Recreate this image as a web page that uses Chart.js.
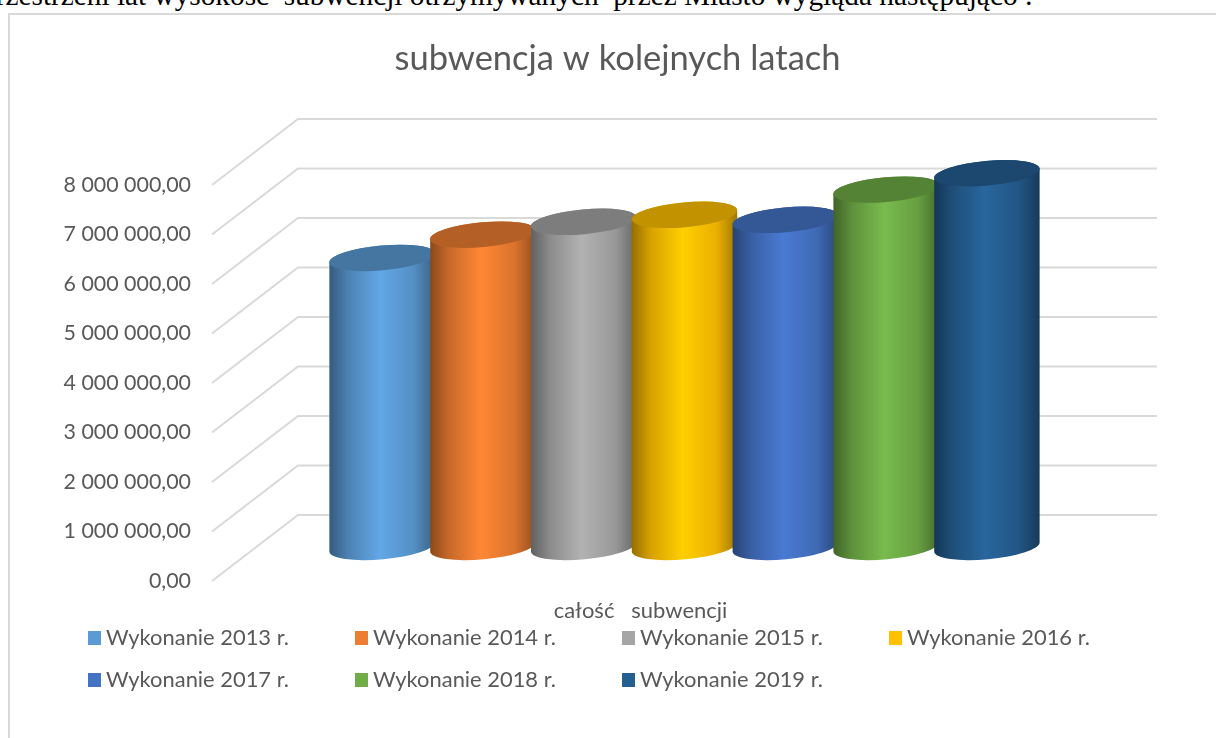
<!DOCTYPE html>
<html lang="pl">
<head>
<meta charset="utf-8">
<style>
html,body{margin:0;padding:0;background:#fff;overflow:hidden;width:1216px;height:738px}
#topline{position:absolute;right:183px;top:-19px;font:29.3px/29px "Liberation Serif",serif;color:#000;white-space:pre}
#frame{position:absolute;left:8px;top:13px;width:1300px;height:800px;border:2px solid #d9d9d9;box-sizing:border-box}
#wrap{position:absolute;left:0;top:0;width:1235px;height:738px}
</style>
</head>
<body>
<div id="topline">przestrzeni lat wysokość  subwencji otrzymywanych  przez Miasto wygląda następująco :</div>
<div id="frame"></div>
<div id="wrap"><canvas id="c" width="1235" height="738"></canvas></div>
<script src="https://cdn.jsdelivr.net/npm/chart.js@4/dist/chart.umd.min.js"></script>
<script>
const chartTitle = "subwencja w kolejnych latach";
const categories = ["całość   subwencji"];
const seriesNames = ["Wykonanie 2013 r.","Wykonanie 2014 r.","Wykonanie 2015 r.","Wykonanie 2016 r.","Wykonanie 2017 r.","Wykonanie 2018 r.","Wykonanie 2019 r."];
const seriesValues = [5840000,6310000,6570000,6710000,6610000,7220000,7550000];
const seriesColors = ["#5B9BD5","#ED7D31","#A5A5A5","#FFC000","#4472C4","#70AD47","#255E91"];
const FONT = "Lato, Carlito, sans-serif";
const INK = "#595959";

function shade(hex,f){
  const n=parseInt(hex.slice(1),16);
  const ch=s=>Math.min(255,Math.round(((n>>s)&255)*f));
  return `rgb(${ch(16)},${ch(8)},${ch(0)})`;
}
function formatPL(v){
  const s=Math.round(v).toString().replace(/\B(?=(\d{3})+(?!\d))/g," ");
  return s+",00";
}

const depthX=86, depthY=66, baseShift=34, tilt=-0.09, minor=12.4;

const wallGrid={
  id:"wallGrid",
  beforeDatasetsDraw(chart){
    const {ctx,scales:{y},chartArea:a}=chart;
    ctx.save();
    ctx.strokeStyle="#d9d9d9";ctx.lineWidth=2;
    y.ticks.forEach(t=>{
      const py=y.getPixelForValue(t.value);
      ctx.beginPath();
      ctx.moveTo(a.left,py);
      ctx.lineTo(a.left+depthX,py-depthY);
      ctx.lineTo(a.right,py-depthY);
      ctx.stroke();
    });
    ctx.restore();
  }
};

const cylinders={
  id:"cylinders",
  beforeDatasetsDraw(chart){
    const ctx=chart.ctx;
    ctx.save();
    chart.data.datasets.forEach((ds,i)=>{
      const bar=chart.getDatasetMeta(i).data[0];
      const cx=bar.x, half=bar.width/2;
      const topY=bar.y-baseShift, baseY=bar.base-baseShift;
      const c=ds.backgroundColor;
      const g=ctx.createLinearGradient(cx-half,0,cx+half,0);
      g.addColorStop(0,shade(c,.58));
      g.addColorStop(.18,shade(c,.84));
      g.addColorStop(.48,shade(c,1.08));
      g.addColorStop(.8,shade(c,.92));
      g.addColorStop(1,shade(c,.62));
      ctx.beginPath();
      ctx.ellipse(cx,baseY,half,minor,tilt,0,Math.PI,false);
      ctx.ellipse(cx,topY,half,minor,tilt,Math.PI,Math.PI*2,false);
      ctx.closePath();
      ctx.fillStyle=g;ctx.fill();
      ctx.beginPath();
      ctx.ellipse(cx,topY,half,minor,tilt,0,Math.PI*2);
      ctx.fillStyle=shade(c,.76);ctx.fill();
    });
    ctx.restore();
    return false;
  }
};

const legendCols=[88,355,622,889], legendRows=[638,680];
const gridLegend={
  id:"gridLegend",
  afterDraw(chart){
    const ctx=chart.ctx;
    ctx.save();
    ctx.font="21.9px "+FONT;ctx.textBaseline="middle";ctx.textAlign="left";
    chart.data.datasets.forEach((ds,i)=>{
      const x=legendCols[i%4], y=legendRows[Math.floor(i/4)];
      ctx.fillStyle=ds.backgroundColor;
      ctx.fillRect(x,y-7,13,14);
      ctx.fillStyle=INK;
      ctx.fillText(ds.label,x+18,y);
    });
    ctx.restore();
  }
};

new Chart(document.getElementById("c"),{
  type:"bar",
  data:{
    labels:categories,
    datasets:seriesNames.map((n,i)=>({label:n,data:[seriesValues[i]],backgroundColor:seriesColors[i]}))
  },
  options:{
    responsive:false,animation:false,
    layout:{padding:{left:60,right:60,top:0,bottom:0}},
    categoryPercentage:.7467,barPercentage:1.05,
    plugins:{
      legend:{display:false},tooltip:{enabled:false},
      title:{display:true,text:chartTitle,color:INK,font:{family:FONT,size:34.5,weight:"normal"},padding:{top:38,bottom:105.6}}
    },
    scales:{
      x:{
        grid:{display:false},border:{display:false},
        ticks:{color:INK,font:{family:FONT,size:22},padding:9,labelOffset:-44,maxRotation:0},
        afterFit(s){s.height=157;}
      },
      y:{
        min:0,max:8000000,
        grid:{display:false},border:{display:false},
        ticks:{stepSize:1000000,color:INK,font:{family:FONT,size:21.4},padding:13,callback:v=>formatPL(v)},
        afterFit(s){s.width=152;}
      },
      yRightSpacer:{
        position:"right",display:true,min:0,max:8000000,
        grid:{display:false},border:{display:false},
        ticks:{display:false},
        afterFit(s){s.width=18;}
      }
    }
  },
  plugins:[wallGrid,cylinders,gridLegend]
});
</script>
</body>
</html>
